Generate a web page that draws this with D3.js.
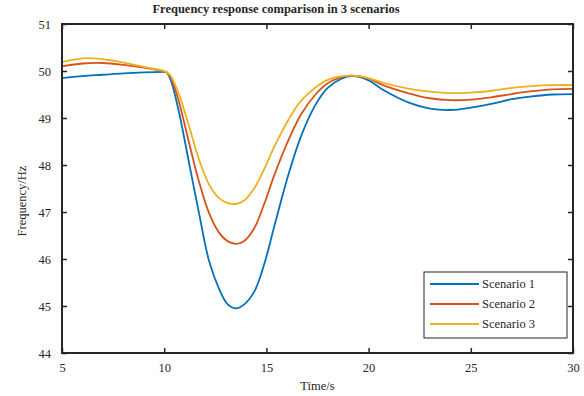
<!DOCTYPE html>
<html>
<head>
<meta charset="utf-8">
<script src="https://cdn.jsdelivr.net/npm/d3@7"></script>
<style>
  body { margin: 0; background: #fff; }
  svg text { font-family: "Liberation Serif", "Times New Roman", serif !important; fill: #262626; }
</style>
</head>
<body>
<div id="chart"></div>
<script>
// time samples (s)
const time = [5, 6, 7, 8, 9, 10, 10.1, 10.3, 10.7, 11.2, 11.7, 12.2, 12.7, 13.1, 13.5, 13.9, 14.4, 14.9, 15.4, 16.1, 16.7, 17.4, 18.0, 18.7, 19.2, 20, 20.7, 22, 23, 24, 25, 26, 27, 28, 29, 30];

const scenario1 = [49.85, 49.89, 49.92, 49.95, 49.97, 49.98, 49.98, 49.83, 49.17, 48.08, 46.98, 45.95, 45.35, 45.04, 44.95, 45.03, 45.3, 45.9, 46.72, 47.83, 48.62, 49.28, 49.64, 49.84, 49.89, 49.8, 49.6, 49.32, 49.2, 49.17, 49.22, 49.3, 49.4, 49.46, 49.5, 49.51];
const scenario2 = [50.10, 50.16, 50.17, 50.13, 50.07, 49.99, 49.98, 49.88, 49.38, 48.5, 47.65, 46.97, 46.55, 46.38, 46.32, 46.38, 46.65, 47.18, 47.8, 48.55, 49.08, 49.5, 49.74, 49.87, 49.9, 49.84, 49.7, 49.52, 49.42, 49.38, 49.39, 49.44, 49.51, 49.57, 49.61, 49.62];
const scenario3 = [50.19, 50.27, 50.25, 50.18, 50.09, 50.0, 49.98, 49.91, 49.53, 48.85, 48.12, 47.58, 47.29, 47.19, 47.17, 47.24, 47.5, 47.92, 48.4, 48.98, 49.37, 49.65, 49.81, 49.89, 49.9, 49.85, 49.75, 49.62, 49.56, 49.53, 49.54, 49.58, 49.64, 49.68, 49.7, 49.7];

const seriesNames = ["Scenario 1", "Scenario 2", "Scenario 3"];
const seriesColors = ["#0072BD", "#D95319", "#EDB120"];
const xTicks = [5, 10, 15, 20, 25, 30];
const yTicks = [44, 45, 46, 47, 48, 49, 50, 51];

const W = 584, H = 396;
const margin = { top: 24, right: 11, bottom: 43, left: 62 };
const iw = W - margin.left - margin.right;
const ih = H - margin.top - margin.bottom;

const svg = d3.select("#chart").append("svg")
  .attr("width", W).attr("height", H);

const g = svg.append("g")
  .attr("transform", `translate(${margin.left},${margin.top})`);

const x = d3.scaleLinear().domain([5, 30]).range([0, iw]);
const y = d3.scaleLinear().domain([44, 51]).range([ih, 0]);

const line = d3.line()
  .x((d) => x(d[0]))
  .y((d) => y(d[1]))
  .curve(d3.curveCatmullRom.alpha(0.5));

const allSeries = [scenario1, scenario2, scenario3];

g.append("defs").append("clipPath").attr("id", "clip")
  .append("rect").attr("width", iw).attr("height", ih);

g.append("g").attr("clip-path", "url(#clip)")
  .selectAll("path")
  .data(allSeries)
  .enter()
  .append("path")
  .attr("d", (s) => line(time.map((t, i) => [t, s[i]])))
  .attr("fill", "none")
  .attr("stroke", (_d, i) => seriesColors[i])
  .attr("stroke-width", 1.8);

// axes, ticks inward, box on
const tickLen = 5;
const axisColor = "#262626";

const axBottom = g.append("g").attr("transform", `translate(0,${ih})`)
  .call(d3.axisBottom(x).tickValues(xTicks).tickSizeInner(-tickLen).tickSizeOuter(0).tickPadding(10).tickFormat(d3.format("d")));
const axTop = g.append("g")
  .call(d3.axisTop(x).tickValues(xTicks).tickSizeInner(-tickLen).tickSizeOuter(0).tickFormat(""));
const axLeft = g.append("g")
  .call(d3.axisLeft(y).tickValues(yTicks).tickSizeInner(-tickLen).tickSizeOuter(0).tickPadding(11).tickFormat(d3.format("d")));
const axRight = g.append("g").attr("transform", `translate(${iw},0)`)
  .call(d3.axisRight(y).tickValues(yTicks).tickSizeInner(-tickLen).tickSizeOuter(0).tickFormat(""));

[axBottom, axTop, axLeft, axRight].forEach((a) => {
  a.attr("font-family", null);
  a.select(".domain").remove();
  a.selectAll(".tick line").attr("stroke", axisColor).attr("stroke-width", 1.5);
  a.selectAll(".tick text").attr("font-size", 12.5).attr("fill", axisColor);
});

g.append("rect")
  .attr("width", iw).attr("height", ih)
  .attr("fill", "none")
  .attr("stroke", axisColor)
  .attr("stroke-width", 2);

// title and labels
svg.append("text")
  .attr("x", 276).attr("y", 13)
  .attr("text-anchor", "middle")
  .attr("font-size", 12.5).attr("font-weight", "bold")
  .text("Frequency response comparison in 3 scenarios");

svg.append("text")
  .attr("x", margin.left + iw / 2).attr("y", 390)
  .attr("text-anchor", "middle")
  .attr("font-size", 12.5)
  .text("Time/s");

svg.append("text")
  .attr("transform", "translate(26,201) rotate(-90)")
  .attr("text-anchor", "middle")
  .attr("font-size", 12.5)
  .text("Frequency/Hz");

// legend
const lg = svg.append("g").attr("transform", "translate(424,272)");
lg.append("rect")
  .attr("width", 143).attr("height", 66)
  .attr("fill", "#fff")
  .attr("stroke", axisColor)
  .attr("stroke-width", 1);

const item = lg.selectAll("g.item")
  .data(seriesNames)
  .enter()
  .append("g")
  .attr("class", "item")
  .attr("transform", (_d, i) => `translate(0,${12 + i * 20})`);

item.append("line")
  .attr("x1", 6).attr("x2", 55)
  .attr("stroke", (_d, i) => seriesColors[i])
  .attr("stroke-width", 1.8);

item.append("text")
  .attr("x", 58).attr("y", 0)
  .attr("dy", "0.32em")
  .attr("font-size", 12.5)
  .text((d) => d);
</script>
</body>
</html>
